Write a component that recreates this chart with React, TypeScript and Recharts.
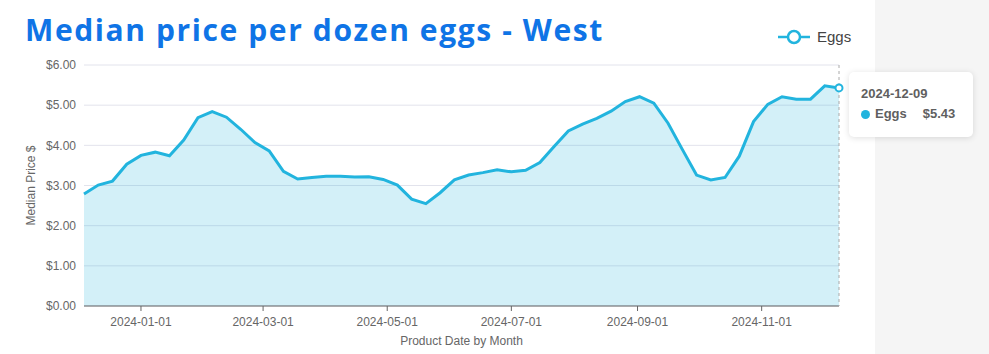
import {
  AreaChart,
  Area,
  XAxis,
  YAxis,
  CartesianGrid,
  Tooltip,
  Legend,
} from 'recharts';

const WEEKS = [
  '2023-12-04', '2023-12-11', '2023-12-18', '2023-12-25',
  '2024-01-01', '2024-01-08', '2024-01-15', '2024-01-22', '2024-01-29',
  '2024-02-05', '2024-02-12', '2024-02-19', '2024-02-26',
  '2024-03-04', '2024-03-11', '2024-03-18', '2024-03-25',
  '2024-04-01', '2024-04-08', '2024-04-15', '2024-04-22', '2024-04-29',
  '2024-05-06', '2024-05-13', '2024-05-20', '2024-05-27',
  '2024-06-03', '2024-06-10', '2024-06-17', '2024-06-24',
  '2024-07-01', '2024-07-08', '2024-07-15', '2024-07-22', '2024-07-29',
  '2024-08-05', '2024-08-12', '2024-08-19', '2024-08-26',
  '2024-09-02', '2024-09-09', '2024-09-16', '2024-09-23', '2024-09-30',
  '2024-10-07', '2024-10-14', '2024-10-21', '2024-10-28',
  '2024-11-04', '2024-11-11', '2024-11-18', '2024-11-25',
  '2024-12-02', '2024-12-09',
];

const EGG_PRICES = [
  2.79, 3.01, 3.11, 3.53,
  3.75, 3.83, 3.74, 4.13, 4.69,
  4.84, 4.70, 4.40, 4.07,
  3.86, 3.35, 3.16, 3.20,
  3.23, 3.23, 3.21, 3.22, 3.15,
  3.01, 2.66, 2.55, 2.82,
  3.14, 3.26, 3.32, 3.39,
  3.34, 3.38, 3.57, 3.97, 4.36,
  4.53, 4.67, 4.85, 5.09,
  5.21, 5.05, 4.55, 3.90, 3.26,
  3.14, 3.20, 3.73, 4.59,
  5.02, 5.21, 5.15, 5.15,
  5.48, 5.43,
];

const X_TICKS = ['2024-01-01', '2024-03-01', '2024-05-01', '2024-07-01', '2024-09-01', '2024-11-01'];
const Y_TICKS = [0, 1, 2, 3, 4, 5, 6];

const LINE = '#22b4de';
const AXIS_TEXT = '#666';
const FONT = '"Liberation Sans", Arial, sans-serif';

const toTs = (d: string) => Date.parse(d + 'T00:00:00Z');
const fmtDate = (ts: number) => new Date(ts).toISOString().slice(0, 10);
const fmtPrice = (v: number) => `$${v.toFixed(2)}`;

const chartData = WEEKS.map((d, i) => ({ ts: toTs(d), eggs: EGG_PRICES[i] }));

const EggTooltip = ({ active, payload }: any) => {
  if (!active || !payload || !payload.length) return null;
  const p = payload[0];
  return (
    <div
      style={{
        background: '#fff',
        borderRadius: 5,
        boxShadow: '0 1px 6px rgba(0,0,0,0.13)',
        width: 124,
        height: 65,
        boxSizing: 'border-box',
        padding: '14px 0 0 12px',
        fontFamily: FONT,
        fontWeight: 700,
        color: '#5f5f5f',
        fontSize: 13,
      }}
    >
      <div style={{ lineHeight: '16px' }}>{fmtDate(p.payload.ts)}</div>
      <div style={{ display: 'flex', alignItems: 'center', marginTop: 4, lineHeight: '16px' }}>
        <span
          style={{
            width: 9,
            height: 9,
            borderRadius: '50%',
            background: LINE,
            display: 'inline-block',
            marginRight: 5,
          }}
        />
        <span>Eggs</span>
        <span style={{ marginLeft: 16 }}>{fmtPrice(p.value)}</span>
      </div>
    </div>
  );
};

const EggLegend = () => (
  <div style={{ display: 'flex', alignItems: 'center', fontFamily: FONT }}>
    <svg width={32} height={16}>
      <line x1={0} y1={8} x2={32} y2={8} stroke={LINE} strokeWidth={2.5} />
      <circle cx={16} cy={8} r={6} fill="#fff" stroke={LINE} strokeWidth={2.5} />
    </svg>
    <span style={{ marginLeft: 7, fontSize: 15, color: '#444' }}>Eggs</span>
  </div>
);

const YLabel = ({ viewBox }: any) => {
  const cy = viewBox.y + viewBox.height / 2;
  return (
    <text
      x={31}
      y={cy}
      transform={`rotate(-90 31 ${cy})`}
      textAnchor="middle"
      dominantBaseline="central"
      fill={AXIS_TEXT}
      fontSize={12}
      fontFamily={FONT}
    >
      Median Price $
    </text>
  );
};

export default function App() {
  return (
    <div style={{ position: 'relative', width: 989, height: 354, background: '#fff', overflow: 'hidden' }}>
      <style>{'body{margin:0}'}</style>
      <div
        style={{
          position: 'absolute',
          left: 875,
          top: 0,
          width: 114,
          height: 354,
          background: '#f5f5f5',
        }}
      />
      <div
        style={{
          position: 'absolute',
          left: 25,
          top: 10,
          fontFamily: '"Open Sans", sans-serif',
          fontWeight: 700,
          fontSize: 30,
          letterSpacing: 1.6,
          lineHeight: '40px',
          color: '#0f74e6',
          whiteSpace: 'nowrap',
        }}
      >
        Median price per dozen eggs - West
      </div>
      <div style={{ position: 'absolute', left: 0, top: 0 }}>
        <AreaChart
          width={989}
          height={354}
          data={chartData}
          margin={{ top: 48, right: 150, bottom: 0, left: 0 }}
        >
          <CartesianGrid vertical={false} stroke="#e2e3ec" />
          <XAxis
            dataKey="ts"
            type="number"
            scale="time"
            domain={['dataMin', 'dataMax']}
            ticks={X_TICKS.map(toTs)}
            tickFormatter={fmtDate}
            height={48}
            stroke="#666"
            tickSize={5}
            tickMargin={6}
            tick={{ fill: AXIS_TEXT, fontSize: 12, fontFamily: FONT }}
            label={{
              value: 'Product Date by Month',
              position: 'insideBottom',
              offset: 9,
              fill: AXIS_TEXT,
              fontSize: 12,
              fontFamily: FONT,
            }}
          />
          <YAxis
            width={84}
            domain={[0, 6]}
            ticks={Y_TICKS}
            tickFormatter={fmtPrice}
            axisLine={false}
            tickLine={false}
            tick={{ fill: AXIS_TEXT, fontSize: 12, fontFamily: FONT }}
            label={<YLabel />}
          />
          <Legend
            verticalAlign="top"
            align="right"
            content={<EggLegend />}
            wrapperStyle={{ position: 'absolute', left: 778, top: 28, width: 90 }}
          />
          <Tooltip
            active
            defaultIndex={53}
            position={{ x: 849, y: 72 }}
            allowEscapeViewBox={{ x: true, y: true }}
            isAnimationActive={false}
            cursor={{ stroke: '#aaa', strokeDasharray: '3 3', strokeWidth: 1 }}
            content={<EggTooltip />}
          />
          <Area
            type="linear"
            dataKey="eggs"
            name="Eggs"
            stroke={LINE}
            strokeWidth={3}
            fill={LINE}
            fillOpacity={0.2}
            dot={false}
            activeDot={{ r: 3.5, fill: '#fff', stroke: LINE, strokeWidth: 2 }}
            isAnimationActive={false}
          />
        </AreaChart>
      </div>
    </div>
  );
}
